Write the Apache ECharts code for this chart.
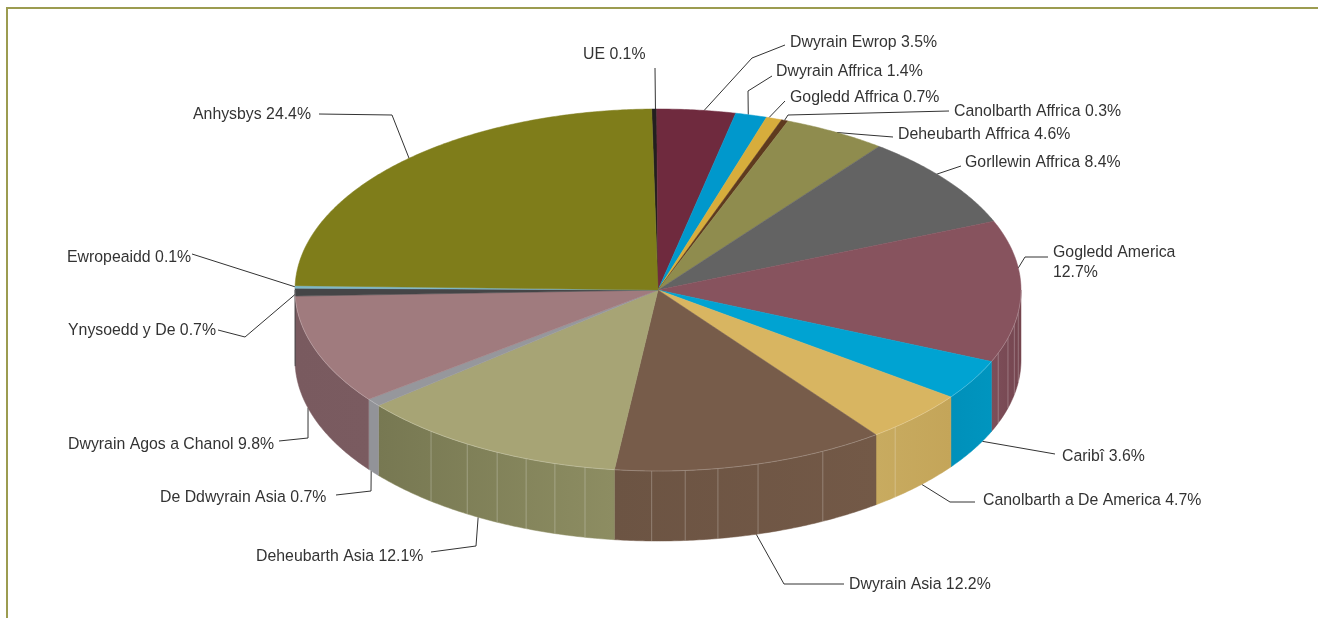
<!DOCTYPE html>
<html>
<head>
<meta charset="utf-8">
<style>
  html, body { margin: 0; padding: 0; background: #fff; }
  #chart { width: 1318px; height: 618px; }
</style>
</head>
<body>
<div id="chart"></div>
<script src="https://cdn.jsdelivr.net/npm/echarts@6/dist/echarts.min.js"></script>
<script>
// data, clockwise from the top
const regions = ['UE', 'Dwyrain Ewrop', 'Dwyrain Affrica', 'Gogledd Affrica', 'Canolbarth Affrica',
  'Deheubarth Affrica', 'Gorllewin Affrica', 'Gogledd America', 'Caribî', 'Canolbarth a De America',
  'Dwyrain Asia', 'Deheubarth Asia', 'De Ddwyrain Asia', 'Dwyrain Agos a Chanol', 'Ynysoedd y De',
  'Ewropeaidd', 'Anhysbys'];
const shares = [0.1, 3.5, 1.4, 0.7, 0.3, 4.6, 8.4, 12.7, 3.6, 4.7, 12.2, 12.1, 0.7, 9.8, 0.7, 0.1, 24.4];

// colours
const topColors = ['#231f20', '#6f2a3e', '#0098cc', '#d7ad3c', '#5e3a1e', '#8f8c4e', '#636363', '#87535e',
  '#00a3d2', '#d8b561', '#775c4a', '#a7a475', '#96979c', '#a07b7e', '#454547', '#7fb8c8', '#7f7d1a'];
const wallLeft = ['#1c1a1a', '#5c2333', '#007fa8', '#b89232', '#4e3019', '#787641', '#535353', '#7d4f5a',
  '#0090ba', '#c8ab60', '#6c5443', '#777852', '#929398', '#795a5f', '#3a3a3c', '#6a9aa8', '#6a6816'];
const wallRight = ['#1c1a1a', '#5c2333', '#007fa8', '#b89232', '#4e3019', '#787641', '#535353', '#75454f',
  '#0095bf', '#c4a559', '#735947', '#8d8d62', '#929398', '#7a5b60', '#3a3a3c', '#6a9aa8', '#6a6816'];

// light seams on the side wall, angle in degrees from the top
const seamAngles = [97, 101, 105.4, 110.4, 139.2, 153, 164, 170.5, 175.7, 181,
  191.6, 196.5, 201.3, 206.3, 211.7, 218.7];

// label placement: text position, leader elbows, angle where the leader meets the pie
const labelX = [583, 790, 776, 790, 954, 898, 965, 1053, 1062, 983, 849, 256, 160, 68, 68, 67, 193];
const labelY = [54.5, 42.5, 71.5, 97.5, 111.5, 134.5, 162.5, 263, 456.5, 500.5, 584.5, 556.5, 497.5, 444.5, 330.5, 257.5, 114.5];
const leaderElbows = [
  [[655, 68]],
  [[785, 45], [752, 58]],
  [[772, 76], [748, 91]],
  [[785, 101]],
  [[949, 111], [788, 115]],
  [[893, 137], [855, 134]],
  [[961, 166]],
  [[1048, 257], [1025, 257]],
  [[1055, 454], [992, 443]],
  [[975, 502], [950, 502]],
  [[844, 584], [784, 584]],
  [[431, 552], [476, 546]],
  [[336, 495], [371, 491]],
  [[279, 441], [308, 438]],
  [[218, 330], [245, 337]],
  [[192, 254]],
  [[319, 114], [392, 115]]
];
const leaderAngles = [-0.4, 7.3, 14.4, 17.8, 20.4, 29.5, 50.2, 83, 116.7, 133.4, 164.3, 209.7, 232.2, 254.6, 268.6, 271, 316.7];
const leaderOnWall = [0, 0, 0, 0, 0, 0, 0, 0, 1, 1, 1, 1, 1, 1, 0, 0, 0];

// pie geometry
const cx = 658, cy = 290, rx = 363, ry = 181, depth = 70;
const sliverDeg = 0.8; // 0.1% slices would vanish otherwise
const firstDeg = -1;

function rimPoint(deg, drop) {
  const a = deg * Math.PI / 180;
  return [cx + rx * Math.sin(a), cy - ry * Math.cos(a) + (drop || 0)];
}

function arcPoints(from, to, drop) {
  const pts = [];
  const n = Math.max(2, Math.ceil(Math.abs(to - from) / 0.5));
  for (let i = 0; i <= n; i++) pts.push(rimPoint(from + (to - from) * i / n, drop));
  return pts;
}

// start / end angle of every slice
const slivers = shares.filter(s => s * 3.6 < sliverDeg);
const restShare = shares.filter(s => s * 3.6 >= sliverDeg).reduce((a, b) => a + b, 0);
const degPerShare = (360 - slivers.length * sliverDeg) / restShare;
const spans = [];
let running = firstDeg;
shares.forEach(s => {
  const d = s * 3.6 < sliverDeg ? sliverDeg : s * degPerShare;
  spans.push([running, running + d]);
  running += d;
});

function renderSlice(params) {
  const i = params.dataIndex;
  const [a0, a1] = spans[i];
  const children = [];

  // side wall, only the front half shows
  const w0 = Math.max(a0, 90), w1 = Math.min(a1, 270);
  if (w1 > w0) {
    children.push({
      type: 'polygon', z2: 1,
      shape: { points: arcPoints(w0, w1, 0).concat(arcPoints(w1, w0, depth)) },
      style: {
        fill: new echarts.graphic.LinearGradient(0, 0, 1, 0, [
          { offset: 0, color: wallLeft[i] }, { offset: 1, color: wallRight[i] }
        ]),
        stroke: wallRight[i], lineWidth: 0.5
      }
    });
    seamAngles.filter(s => s > w0 && s < w1).forEach(s => {
      const p = rimPoint(s, 0), q = rimPoint(s, depth);
      children.push({
        type: 'line', z2: 2,
        shape: { x1: p[0], y1: p[1], x2: q[0], y2: q[1] },
        style: { stroke: 'rgba(255,255,255,0.25)', lineWidth: 1 }
      });
    });
    children.push({
      type: 'polyline', z2: 4,
      shape: { points: arcPoints(w0, w1, 0) },
      style: { stroke: 'rgba(255,255,255,0.22)', lineWidth: 1, fill: null }
    });
  }

  // top face
  children.push({
    type: 'polygon', z2: 3,
    shape: { points: [[cx, cy]].concat(arcPoints(a0, a1, 0)) },
    style: { fill: topColors[i], stroke: topColors[i], lineWidth: 0.5 }
  });

  // leader line and label
  const end = rimPoint(leaderAngles[i], leaderOnWall[i] ? depth : 0);
  children.push({
    type: 'polyline', z2: 0,
    shape: { points: leaderElbows[i].concat([end]) },
    style: { stroke: '#333', lineWidth: 1, fill: null }
  });
  const pct = shares[i].toFixed(1) + '%';
  children.push({
    type: 'text', z2: 5,
    style: {
      x: labelX[i], y: labelY[i],
      text: regions[i] + (i === 7 ? '\n' : ' ') + pct,
      font: '15.85px "Liberation Sans", Arial, sans-serif',
      lineHeight: 20,
      fill: '#333', align: 'left', verticalAlign: 'middle'
    }
  });
  return { type: 'group', children };
}

const chart = echarts.init(document.getElementById('chart'), null, { renderer: 'canvas' });
chart.setOption({
  animation: false,
  backgroundColor: '#fff',
  graphic: [
    { type: 'line', shape: { x1: 6, y1: 8, x2: 1318, y2: 8 }, style: { stroke: '#9c9c50', lineWidth: 2 } },
    { type: 'line', shape: { x1: 7, y1: 8, x2: 7, y2: 618 }, style: { stroke: '#9c9c50', lineWidth: 2 } }
  ],
  series: [{
    type: 'custom',
    coordinateSystem: 'none',
    silent: true,
    renderItem: renderSlice,
    data: shares
  }]
});
</script>
</body>
</html>
